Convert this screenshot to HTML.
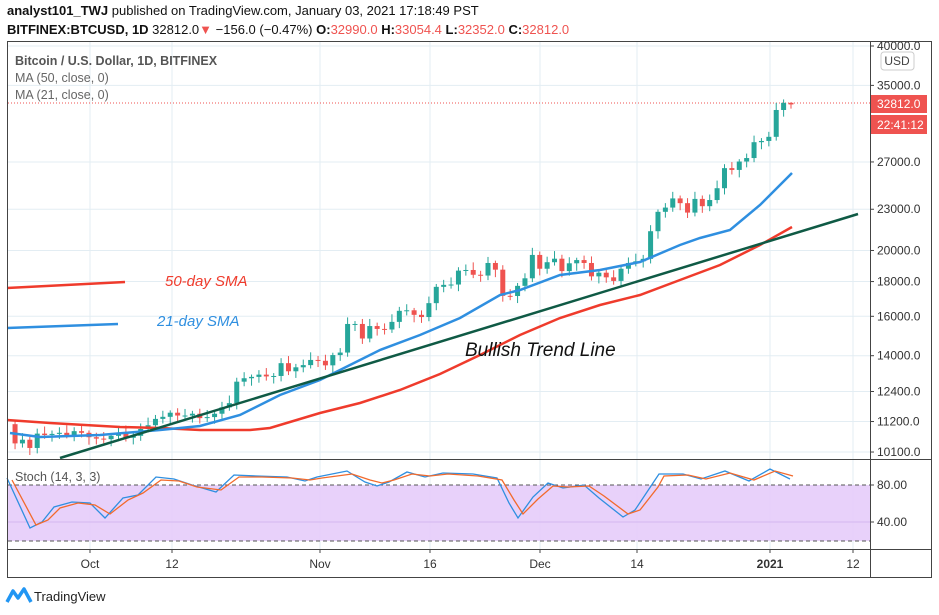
<!DOCTYPE html>
<html><head><meta charset="utf-8"><style>
body{margin:0;background:#fff;width:939px;height:615px;overflow:hidden;font-family:"Liberation Sans",sans-serif}
svg{position:absolute;left:0;top:0}
</style></head><body>
<svg id="s" width="939" height="615" xmlns="http://www.w3.org/2000/svg" font-family="Liberation Sans, sans-serif">
<text x="7" y="15" font-size="13" fill="#111"><tspan font-weight="bold">analyst101_TWJ</tspan> published on TradingView.com, January 03, 2021 17:18:49 PST</text>
<text x="7" y="34" font-size="13" fill="#111"><tspan font-weight="bold">BITFINEX:BTCUSD, 1D</tspan> 32812.0<tspan fill="#ef5350">▼</tspan> −156.0 (−0.47%) <tspan font-weight="bold">O:</tspan><tspan fill="#ef5350">32990.0</tspan> <tspan font-weight="bold">H:</tspan><tspan fill="#ef5350">33054.4</tspan> <tspan font-weight="bold">L:</tspan><tspan fill="#ef5350">32352.0</tspan> <tspan font-weight="bold">C:</tspan><tspan fill="#ef5350">32812.0</tspan></text>
<g id="grid" stroke="#e3edf3" stroke-width="1"></g>
<rect x="8" y="485" width="862" height="56" fill="#e6ccfa" opacity="0.9"/>
<line x1="8" y1="522" x2="870" y2="522" stroke="#d3b8f0"/>
<line x1="8" y1="485" x2="870" y2="485" stroke="#555" stroke-dasharray="4,3"/>
<line x1="8" y1="541" x2="870" y2="541" stroke="#555" stroke-dasharray="4,3"/>
<line x1="8" y1="103" x2="870" y2="103" stroke="#ef5350" stroke-dasharray="1,2"/>
<g id="candles"></g>
<polyline fill="none" stroke="#ef3b2c" stroke-width="2.5" points="7,420 50,423 120,427 160,428 200,430 250,430 270,428 320,413 360,403 400,390 440,374 480,355 520,335 560,318 600,305 640,295 680,280 720,265 760,245 792,227"/>
<polyline fill="none" stroke="#2f8fe0" stroke-width="2.5" points="10,433 40,437 100,435 160,430 200,426 240,415 280,395 320,380 350,365 380,350 420,335 460,318 500,295 520,290 560,275 600,270 640,262 680,245 700,238 730,230 760,205 792,173"/>
<line x1="60" y1="458" x2="858" y2="214" stroke="#0f5a45" stroke-width="2.5"/>
<line x1="7" y1="288" x2="125" y2="282" stroke="#ef3b2c" stroke-width="2.5"/>
<line x1="7" y1="328" x2="118" y2="324" stroke="#2f8fe0" stroke-width="2.5"/>
<text x="165" y="286" font-size="15" font-style="italic" fill="#ef3b2c">50-day SMA</text>
<text x="157" y="326" font-size="15" font-style="italic" fill="#2f8fe0">21-day SMA</text>
<text x="465" y="356" font-size="19" font-style="italic" fill="#111">Bullish Trend Line</text>
<text x="15" y="65" font-size="12.5" fill="#555" font-weight="bold">Bitcoin / U.S. Dollar, 1D, BITFINEX</text>
<text x="15" y="82" font-size="12.5" fill="#666">MA (50, close, 0)</text>
<text x="15" y="99" font-size="12.5" fill="#666">MA (21, close, 0)</text>
<text x="15" y="481" font-size="12.5" fill="#555">Stoch (14, 3, 3)</text>
<polyline id="sb" fill="none" stroke="#2f8fe0" stroke-width="1.3" points="7,478 30,528 42,522 54,507 72,502 90,503 105,518 123,498 138,495 156,477 174,479 192,485 216,492 234,475 257,476 287,477 305,481 317,477 347,471 365,482 377,486 389,482 407,472 425,477 443,473 473,474 497,478 509,503 518,518 533,497 548,483 563,488 584,485 599,498 623,517 635,510 653,483 659,474 683,474 701,479 725,471 749,481 770,469 790,479"/>
<polyline fill="none" stroke="#f26a2c" stroke-width="1.3" points="12,480 36,525 48,520 60,508 78,503 95,505 110,514 128,500 143,493 161,480 179,481 197,487 221,490 239,477 262,477 292,478 310,480 322,478 352,474 370,480 382,483 394,480 412,474 430,476 448,474 478,476 502,480 514,500 523,514 538,499 553,486 568,487 589,486 604,496 628,514 640,510 658,487 664,476 688,475 706,479 730,473 754,480 775,471 793,476"/>
<g id="axis" font-size="12" fill="#333"></g>
<rect x="7.5" y="41.5" width="924" height="536" fill="none" stroke="#444"/>
<line x1="870.5" y1="41" x2="870.5" y2="578" stroke="#444"/>
<line x1="7" y1="459.5" x2="932" y2="459.5" stroke="#444"/>
<line x1="7" y1="549.5" x2="932" y2="549.5" stroke="#444"/>
<rect x="881" y="52" width="33" height="18" rx="3" fill="#fff" stroke="#ccc"/>
<text x="897" y="65" font-size="12" fill="#444" text-anchor="middle">USD</text>
<rect x="871" y="95" width="56" height="18" fill="#ef5350"/>
<text x="877" y="108" font-size="12" fill="#fff">32812.0</text>
<rect x="871" y="115" width="56" height="19" fill="#ef5350"/>
<text x="877" y="129" font-size="12" fill="#fff">22:41:12</text>
<g transform="translate(7,588)"><path d="M0,14 L6,3 L11,10 L17,1 L24,14" fill="none" stroke="#2196f3" stroke-width="3.5" stroke-linejoin="round"/></g>
<text x="34" y="601" font-size="13" fill="#222">TradingView</text>
</svg>
<script>
const NS="http://www.w3.org/2000/svg";
function el(p,t,a){const e=document.createElementNS(NS,t);for(const k in a)e.setAttribute(k,a[k]);p.appendChild(e);return e;}
const Y=p=>46+295*Math.log(40000/p);
const grid=document.getElementById('grid'),ax=document.getElementById('axis');
const xs=[[90,'Oct'],[172,'12'],[320,'Nov'],[430,'16'],[540,'Dec'],[637,'14'],[770,'2021'],[853,'12']];
xs.forEach(([x,t])=>{el(grid,'line',{x1:x,y1:41,x2:x,y2:549});el(ax,'line',{x1:x,y1:549,x2:x,y2:553,stroke:'#444'});const tt=el(ax,'text',{x:x,y:568,'text-anchor':'middle'});tt.textContent=t;if(t==='2021')tt.setAttribute('font-weight','bold');});
[40000,35000,27000,23000,20000,18000,16000,14000,12400,11200,10100].forEach(p=>{const y=Y(p);el(grid,'line',{x1:7,y1:y,x2:870,y2:y});el(ax,'line',{x1:870,y1:y,x2:874,y2:y,stroke:'#444'});const t=el(ax,'text',{x:877,y:y+4});t.textContent=p.toFixed(1);});
[[485,'80.00'],[522,'40.00']].forEach(([y,s])=>{el(ax,'line',{x1:870,y1:y,x2:874,y2:y,stroke:'#444'});const t=el(ax,'text',{x:877,y:y+4});t.textContent=s;});
const c=[11100,10400,10530,10240,10750,10700,10740,10780,10700,10840,10780,10620,10570,10550,10670,10790,10600,10670,10920,11060,11300,11380,11540,11430,11430,11500,11330,11370,11500,11750,11920,12820,12970,13030,13130,13050,13070,13650,13280,13460,13560,13800,13760,13550,14030,14150,15590,15590,14840,15480,15330,15300,15700,16300,16330,16080,15960,16730,17680,17800,17820,18680,18720,18420,18370,19170,18740,17150,17140,17740,18200,19700,18800,19220,19450,18650,19150,19360,19170,18320,18550,18260,18040,18800,19170,19280,19440,21350,22800,23130,23860,23480,22740,23820,23240,23730,24700,26440,26280,27040,27360,28870,28990,29400,32200,32990,32812];
const g=document.getElementById('candles');const N=c.length;
for(let i=1;i<N;i++){const o=c[i-1],cl=c[i];const x=791-(N-1-i)*7.39;const up=cl>=o;const col=up?'#26a69a':'#ef5350';
const r=((i*37)%11)/11;const hi=Math.max(o,cl)*(1.008+0.02*r),lo=Math.min(o,cl)*(0.99-0.015*(1-r));
el(g,'line',{x1:x,y1:Y(i==N-1?33054:hi),x2:x,y2:Y(i==N-1?32352:lo),stroke:col,'stroke-width':1});
const y1=Y(Math.max(o,cl)),y2=Y(Math.min(o,cl));el(g,'rect',{x:x-2.5,y:y1,width:5,height:Math.max(1,y2-y1),fill:col});}
</script>
</body></html>
